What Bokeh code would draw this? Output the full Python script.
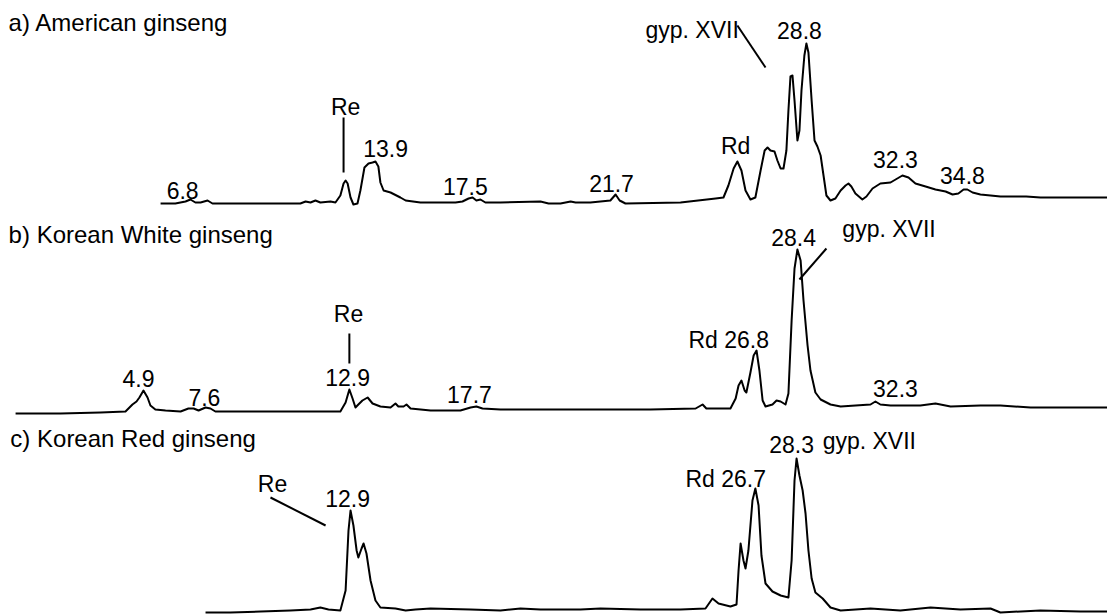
import numpy as np
from bokeh.plotting import figure
from bokeh.models import Range1d, ColumnDataSource
from bokeh.core.properties import value
from bokeh.embed import file_html
from bokeh.resources import INLINE

# ---- chromatograms: retention time (min) and detector response (a.u.) ----
american_time = [6.32, 6.83, 7.18, 7.35, 7.52, 7.70, 7.94, 8.11, 9.08, 11.14, 11.32, 11.49, 11.66,
                 11.83, 12.18, 12.35, 12.52, 12.63, 12.70, 12.77, 12.87, 12.97, 13.11, 13.21, 13.35,
                 13.49, 13.63, 13.73, 13.83, 13.90, 14.01, 14.25, 14.59, 14.77, 15.28, 16.49, 16.73,
                 16.94, 17.08, 17.21, 17.35, 17.52, 18.04, 19.42, 19.70, 20.11, 20.46, 20.63, 21.14,
                 21.83, 22.01, 22.15, 22.35, 24.25, 25.46, 25.73, 25.90, 26.08, 26.21, 26.35, 26.49,
                 26.66, 26.83, 27.01, 27.15, 27.25, 27.35, 27.49, 27.59, 27.70, 27.80, 27.90, 27.97,
                 28.04, 28.11, 28.18, 28.28, 28.35, 28.42, 28.52, 28.59, 28.66, 28.77, 28.87, 28.97,
                 29.08, 29.18, 29.28, 29.42, 29.59, 29.77, 29.94, 30.04, 30.14, 30.28, 30.52, 30.66,
                 30.87, 31.14, 31.49, 31.90, 32.11, 32.35, 32.70, 33.04, 33.39, 33.63, 33.83, 34.01,
                 34.14, 34.32, 34.59, 34.94, 35.28, 36.17, 36.66, 37.35, 38.04, 38.97]
american_signal = [0, 0, 2, 4, 1, 1, 3, 0, 0, 0, 2, 1, 3,
                   1, 2, 1, 8, 20, 23, 20, 6, -1, 0, 13, 36,
                   40, 41, 42, 37, 21, 13, 11, 6, 3, 1, 1, 2,
                   5, 6, 3, 4, 1, 1, 2, 0, 0, 2, 1, 1,
                   3, 9, 3, 0, 1, 5, 6, 18, 35, 42, 33, 13,
                   4, 6, 33, 53, 56, 53, 52, 43, 35, 35, 53, 93,
                   127, 128, 103, 63, 73, 113, 148, 160, 151, 103, 63, 57,
                   48, 28, 8, 3, 5, 13, 18, 20, 17, 10, 4, 7,
                   15, 20, 21, 28, 26, 20, 17, 14, 12, 9, 10, 14,
                   14, 11, 9, 8, 7, 7, 6, 6, 6, 6]

white_time = [1.32, 2.87, 4.25, 5.11, 5.35, 5.49, 5.59, 5.73, 5.87, 5.97, 6.14, 6.49, 7.01,
              7.28, 7.46, 7.63, 7.87, 8.04, 8.21, 9.77, 11.14, 12.52, 12.70, 12.83, 12.94,
              13.04, 13.14, 13.28, 13.46, 13.63, 13.90, 14.25, 14.42, 14.52, 14.70, 14.80, 14.94,
              15.63, 16.66, 17.01, 17.21, 17.42, 18.04, 20.11, 21.49, 23.21, 24.77, 25.01, 25.14,
              25.97, 26.15, 26.25, 26.35, 26.46, 26.52, 26.66, 26.77, 26.87, 26.97, 27.08, 27.18,
              27.42, 27.56, 27.70, 27.87, 27.97, 28.08, 28.18, 28.28, 28.39, 28.49, 28.63, 28.73,
              28.90, 29.08, 29.42, 29.77, 30.80, 30.97, 31.14, 31.49, 31.83, 32.52, 33.04, 33.56,
              34.59, 35.28, 36.32, 37.35, 38.97]
white_signal = [-1, -1, 0, 1, 8, 11, 15, 22, 15, 7, 3, 2, 1,
                4, 4, 2, 5, 4, 1, 1, 1, 1, 10, 23, 14,
                5, 8, 12, 15, 9, 6, 5, 9, 6, 6, 8, 4,
                2, 2, 5, 6, 4, 3, 3, 3, 3, 4, 8, 4,
                4, 14, 27, 32, 22, 20, 40, 57, 62, 42, 12, 6,
                8, 12, 11, 8, 19, 92, 144, 163, 152, 112, 67, 42,
                20, 13, 8, 6, 8, 11, 8, 7, 7, 7, 9, 6,
                7, 7, 5, 5, 5]

red_time = [7.87, 8.73, 9.77, 10.80, 11.49, 11.83, 12.11, 12.52, 12.70, 12.80, 12.87, 12.97, 13.08,
            13.14, 13.25, 13.32, 13.42, 13.56, 13.73, 13.90, 14.42, 14.77, 15.11, 15.63, 17.01,
            18.04, 18.73, 19.42, 20.80, 21.49, 22.87, 24.25, 25.11, 25.35, 25.56, 25.97, 26.18,
            26.25, 26.32, 26.42, 26.49, 26.59, 26.73, 26.83, 26.94, 27.04, 27.18, 27.42, 27.70,
            27.97, 28.08, 28.18, 28.25, 28.35, 28.46, 28.56, 28.66, 28.77, 28.90, 29.15, 29.42,
            29.77, 30.80, 31.83, 32.87, 33.90, 34.94, 35.28, 36.66, 38.04, 38.97]
red_signal = [-1, -1, 0, 1, 2, 4, 2, 1, 21, 81, 101, 86, 61,
              54, 63, 68, 58, 31, 11, 4, 3, 1, 2, 3, 2,
              1, 3, 2, 2, 3, 2, 2, 3, 13, 8, 5, 7,
              41, 68, 51, 43, 61, 111, 123, 106, 56, 28, 20, 16,
              14, 51, 131, 153, 136, 121, 98, 61, 33, 19, 13, 4,
              1, 3, 1, 4, 2, 3, -1, 1, 0, 0]

titles = ["a) American ginseng", "b) Korean White ginseng", "c) Korean Red ginseng"]

# ---- stacking of the three traces (baseline of each panel, in plot units) ----
offsets = [411, 202, 3]

# peak annotations: (text, time, height of text baseline above trace baseline, anchor)
american_labels = [("6.8", 7.08, 13, "center"), ("Re", 12.70, 97, "center"),
                   ("13.9", 14.08, 55, "center"), ("17.5", 16.83, 17, "center"),
                   ("21.7", 21.87, 20, "center"), ("Rd", 26.15, 58, "center"),
                   ("gyp. XVII", 23.04, 174, "left"), ("28.8", 28.35, 173, "center"),
                   ("32.3", 31.66, 44, "center"), ("34.8", 33.97, 28, "center")]
white_labels = [("4.9", 5.56, 34, "center"), ("7.6", 7.83, 15, "center"),
                ("Re", 12.80, 99, "center"), ("12.9", 12.77, 35, "center"),
                ("17.7", 16.97, 18, "center"), ("Rd 26.8", 24.52, 73, "left"),
                ("28.4", 28.15, 175, "center"), ("gyp. XVII", 29.83, 184, "left"),
                ("32.3", 31.66, 24, "center")]
red_labels = [("Re", 10.18, 128, "center"), ("12.9", 12.77, 113, "center"),
              ("Rd 26.7", 24.42, 133, "left"), ("28.3", 28.08, 167, "center"),
              ("gyp. XVII", 29.15, 171, "left")]

# leader lines: (t0, h0, t1, h1) above each baseline
american_leaders = [(12.63, 86, 12.63, 31), (26.21, 178, 27.18, 136)]
white_leaders = [(12.83, 79, 12.83, 49), (29.28, 164, 28.35, 133)]
red_leaders = [(10.11, 114, 12.01, 86)]

title_pos = [(1.08, 181), (1.08, 178), (1.14, 173)]

FONT = "Liberation Sans"

p = figure(width=1107, height=614, output_backend="svg", toolbar_location=None,
           x_axis_type=None, y_axis_type=None, min_border=0,
           x_range=Range1d(0.8, 0.8 + 1107 / 29), y_range=Range1d(0, 614))
p.grid.visible = False
p.outline_line_color = None
p.background_fill_color = "white"
p.border_fill_color = "white"

traces = [(american_time, american_signal), (white_time, white_signal), (red_time, red_signal)]
label_sets = [american_labels, white_labels, red_labels]
leader_sets = [american_leaders, white_leaders, red_leaders]

for (t, s), off, labels, leaders, title, (tx, ty) in zip(traces, offsets, label_sets,
                                                          leader_sets, titles, title_pos):
    p.line(np.array(t), np.array(s) + off, line_color="black", line_width=2,
           line_join="round")

    p.text(x=[tx], y=[ty + off], text=[title], text_font=value(FONT),
           text_font_size=value("24px"), text_color="black",
           text_align="left", text_baseline="alphabetic")

    for align in ("center", "left"):
        sel = [l for l in labels if l[3] == align]
        if not sel:
            continue
        src = ColumnDataSource(dict(x=[l[1] for l in sel], y=[l[2] + off for l in sel],
                                    text=[l[0] for l in sel]))
        p.text(x="x", y="y", text="text", source=src, text_font=value(FONT),
               text_font_size=value("23px"), text_color="black",
               text_align=align, text_baseline="alphabetic")

    p.segment(x0=[l[0] for l in leaders], y0=[l[1] + off for l in leaders],
              x1=[l[2] for l in leaders], y1=[l[3] + off for l in leaders],
              line_color="black", line_width=2)

open("out.html", "w").write(file_html(p, INLINE))
